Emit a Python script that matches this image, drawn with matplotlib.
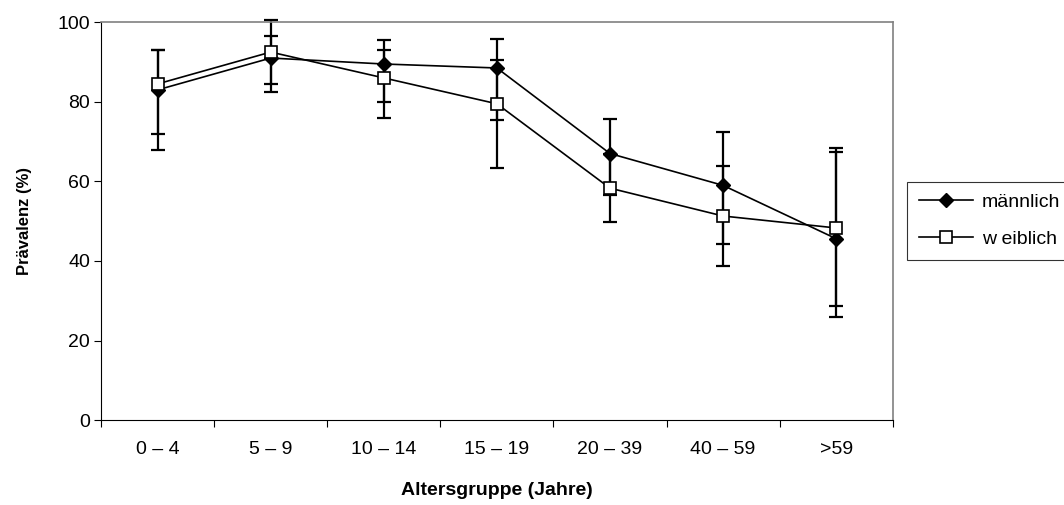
import numpy as np
import matplotlib
matplotlib.use("Agg")
import matplotlib.pyplot as plt

plt.rcParams['font.family'] = ['Liberation Sans', 'DejaVu Sans']

# Altersgruppen und Prävalenz (%) mit Konfidenzgrenzen
groups = ['0 – 4', '5 – 9', '10 – 14', '15 – 19', '20 – 39', '40 – 59', '>59']
male = [83.0, 91.0, 89.5, 88.5, 67.0, 59.0, 45.6]
male_low = [72.0, 84.4, 80.0, 75.5, 56.5, 44.3, 28.8]
male_high = [93.0, 96.5, 95.5, 95.9, 75.8, 72.3, 67.4]
female = [84.5, 92.5, 86.0, 79.5, 58.3, 51.3, 48.3]
female_low = [67.8, 82.5, 76.0, 63.4, 49.8, 38.8, 26.0]
female_high = [93.0, 100.5, 93.0, 90.5, 67.0, 63.8, 68.4]

x = np.arange(len(groups))

fig = plt.figure(figsize=(10.64, 5.05), dpi=100)
ax = fig.add_axes([0.095, 0.168, 0.744, 0.788])

m = np.array(male)
f = np.array(female)
for vals, lo, hi in [(m, male_low, male_high), (f, female_low, female_high)]:
    eb = ax.errorbar(x, vals, yerr=[vals - np.array(lo), np.array(hi) - vals],
                     fmt='none', ecolor='black', elinewidth=1.6, capsize=5,
                     capthick=1.6, zorder=2)
    for child in eb.get_children():
        child.set_clip_on(False)

ax.plot(x, m, color='black', lw=1.2, marker='D', markersize=7.5,
        markerfacecolor='black', markeredgecolor='black', label='männlich', zorder=3)
ax.plot(x, f, color='black', lw=1.2, marker='s', markersize=8,
        markerfacecolor='white', markeredgecolor='black', markeredgewidth=1.2,
        label='w eiblich', zorder=4)

ax.set_xlim(-0.5, len(groups) - 0.5)
ax.set_ylim(0, 100)
ax.set_yticks([0, 20, 40, 60, 80, 100])
ax.set_xticks(x)
ax.set_xticklabels(groups)
ax.set_xticks(np.arange(len(groups) + 1) - 0.5, minor=True)
ax.tick_params(axis='x', which='major', length=0, pad=15, labelsize=14)
ax.tick_params(axis='x', which='minor', length=5, direction='out', width=0.8)
ax.tick_params(axis='y', length=5, direction='out', width=0.8, labelsize=14, pad=3)

for s in ['top', 'right']:
    ax.spines[s].set_color('#808080')
    ax.spines[s].set_linewidth(1.2)
for s in ['left', 'bottom']:
    ax.spines[s].set_color('black')
    ax.spines[s].set_linewidth(0.8)

ax.set_xlabel('Altersgruppe (Jahre)', fontsize=14, fontweight='bold')
ax.set_ylabel('Prävalenz (%)', fontsize=12, fontweight='bold')
ax.xaxis.set_label_coords(0.5, -0.155)
ax.yaxis.set_label_coords(-0.087, 0.5)

leg = fig.legend(loc='upper left', bbox_to_anchor=(0.8524, 0.64), fontsize=14,
                 frameon=True, fancybox=False, handlelength=2.8, borderpad=0.6,
                 labelspacing=1.0, handletextpad=0.45, borderaxespad=0)
leg.get_frame().set_edgecolor('black')
leg.get_frame().set_linewidth(0.8)

fig.savefig('out.png', dpi=100)
